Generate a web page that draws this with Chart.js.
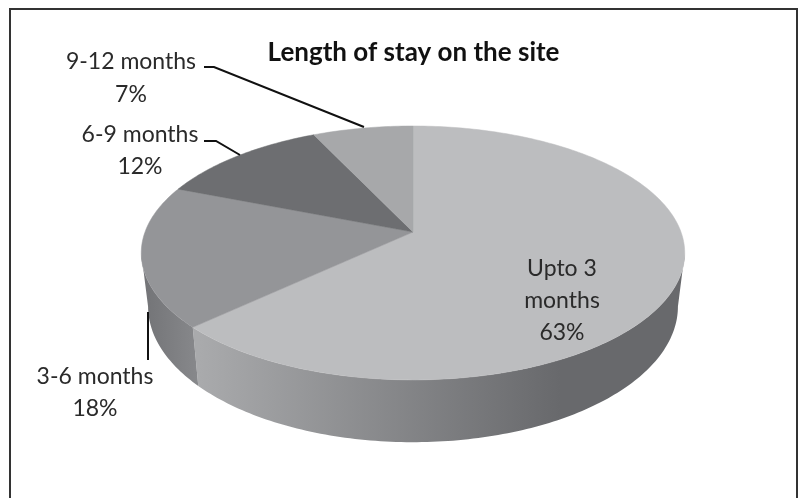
<!DOCTYPE html>
<html lang="en">
<head>
    <meta charset="UTF-8">
    <title>Length of stay on the site</title>
    <script src="https://cdn.jsdelivr.net/npm/chart.js"></script>
    <style>
        html, body { margin: 0; padding: 0; background: #fff; }
        canvas { display: block; }
    </style>
</head>
<body>
    <canvas id="stayChart" width="805" height="498"></canvas>

    <script>
        const categories = ['Upto 3 months', '3-6 months', '6-9 months', '9-12 months'];
        const shares = [63, 18, 12, 7];

        const topColors = ['#bcbdbf', '#949598', '#6d6e71', '#a7a8aa'];
        // side wall gradient per slice: x from, x to, colour from, colour to
        const wallShades = [
            [200, 560, '#a9aaac', '#68696c'],
            [147, 197, '#747578', '#87888b'],
            [0, 1, '#555', '#555'],
            [0, 1, '#777', '#777']
        ];
        // text lines and centre of each label, leader line points
        const labelSpots = [
            { x: 562, y: [269, 301, 333], lines: ['Upto 3', 'months'], leader: null },
            { x: 95, y: [377, 409], lines: ['3-6 months'], leader: [[148, 312], [148, 360]] },
            { x: 140, y: [135, 167], lines: ['6-9 months'], leader: [[204, 141], [216, 141], [240, 155]] },
            { x: 131, y: [62, 95], lines: ['9-12 months'], leader: [[204, 67], [214, 67], [364, 127]] }
        ];

        // perspective view of the disc, fitted to the picture
        const view = { cx: 413, cy: 232, rx: 268, ry: 123.5, persp: 0.165, depth: 52, shrink: 0.975 };
        const wallFrom = Math.acos(-view.persp);
        const wallTo = 2 * Math.PI - wallFrom;

        function project(theta, drop) {
            const u = Math.sin(theta);
            const v = -Math.cos(theta);
            const s = 1 / (1 - view.persp * v);
            const narrow = drop ? view.shrink : 1;
            return [view.cx + view.rx * u * s * narrow, view.cy + (view.ry * v + drop) * s];
        }

        function traceEdge(ctx, from, to, drop) {
            const steps = Math.max(2, Math.ceil(Math.abs(to - from) * 60));
            for (let i = 0; i <= steps; i++) {
                const p = project(from + (to - from) * i / steps, drop);
                ctx.lineTo(p[0], p[1]);
            }
        }

        const tiltedPie = {
            id: 'tiltedPie',
            beforeDraw(chart) {
                const ctx = chart.ctx;
                ctx.save();
                ctx.fillStyle = '#fff';
                ctx.fillRect(0, 0, chart.width, chart.height);
                ctx.strokeStyle = '#333';
                ctx.lineWidth = 2;
                ctx.beginPath();
                ctx.moveTo(10, 498);
                ctx.lineTo(10, 9);
                ctx.lineTo(797, 9);
                ctx.lineTo(797, 498);
                ctx.stroke();
                ctx.restore();
            },
            // the arcs are laid out by Chart.js, only the outline is drawn in perspective
            beforeDatasetDraw(chart, args) {
                const ctx = chart.ctx;
                const arcs = args.meta.data;
                const slices = arcs.map(a => [a.startAngle + Math.PI / 2, a.endAngle + Math.PI / 2]);
                ctx.save();
                slices.forEach((s, i) => {
                    const from = Math.max(s[0], wallFrom);
                    const to = Math.min(s[1], wallTo);
                    if (to <= from) return;
                    const w = wallShades[i];
                    const grad = ctx.createLinearGradient(w[0], 0, w[1], 0);
                    grad.addColorStop(0, w[2]);
                    grad.addColorStop(1, w[3]);
                    ctx.fillStyle = grad;
                    ctx.beginPath();
                    traceEdge(ctx, from, to, 0);
                    traceEdge(ctx, to, from, view.depth);
                    ctx.closePath();
                    ctx.fill();
                });
                slices.forEach((s, i) => {
                    ctx.fillStyle = topColors[i];
                    ctx.strokeStyle = topColors[i];
                    ctx.lineWidth = 0.5;
                    ctx.beginPath();
                    ctx.moveTo(view.cx, view.cy);
                    traceEdge(ctx, s[0], s[1], 0);
                    ctx.closePath();
                    ctx.fill();
                    ctx.stroke();
                });
                ctx.restore();
                return false;
            },
            afterDatasetsDraw(chart) {
                const ctx = chart.ctx;
                ctx.save();
                ctx.font = '23px Lato';
                ctx.fillStyle = '#2a2a2a';
                ctx.textAlign = 'center';
                ctx.textBaseline = 'middle';
                labelSpots.forEach((spot, i) => {
                    const text = spot.lines.concat(shares[i] + '%');
                    text.forEach((t, k) => ctx.fillText(t, spot.x, spot.y[k]));
                    if (!spot.leader) return;
                    ctx.strokeStyle = '#111';
                    ctx.lineWidth = 2;
                    ctx.beginPath();
                    spot.leader.forEach(p => ctx.lineTo(p[0], p[1]));
                    ctx.stroke();
                });
                ctx.restore();
            }
        };

        new Chart(document.getElementById('stayChart'), {
            type: 'pie',
            data: {
                labels: categories,
                datasets: [{ data: shares, backgroundColor: topColors, borderWidth: 0 }]
            },
            options: {
                responsive: false,
                animation: false,
                events: [],
                layout: { padding: { left: 22 } },
                plugins: {
                    legend: { display: false },
                    tooltip: { enabled: false },
                    title: {
                        display: true,
                        text: 'Length of stay on the site',
                        color: '#111',
                        font: { family: 'Lato', size: 26, weight: 'bold' },
                        padding: { top: 37, bottom: 10 }
                    }
                }
            },
            plugins: [tiltedPie]
        });
    </script>
</body>
</html>
